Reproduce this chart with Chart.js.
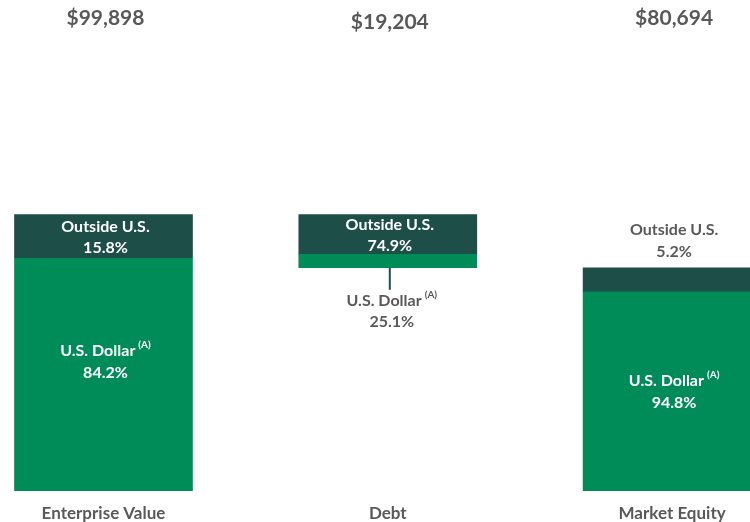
<!DOCTYPE html>
<html>
<head>
<meta charset="utf-8">
<script src="https://cdn.jsdelivr.net/npm/chart.js@4.4.0/dist/chart.umd.min.js"></script>
<style>
html, body { margin: 0; padding: 0; background: #fff; }
</style>
</head>
<body>
<canvas id="waterfall" width="750" height="522"></canvas>
<script>
// values in $ millions
var categories = ['Enterprise Value', 'Debt', 'Market Equity'];
var totalLabels = ['$99,898', '$19,204', '$80,694'];
var bases = [0, 80694, 0];
var usdValues = [84113, 4820, 72000];
var outsideValues = [15785, 14384, 8694];
var usdPct = ['84.2%', '25.1%', '94.8%'];
var outsidePct = ['15.8%', '74.9%', '5.2%'];

var green = '#008c58';
var darkGreen = '#1d4e48';
var grey = '#595959';

function drawUsdLabel(ctx, text, cx, cy, color) {
    ctx.font = 'bold 16px Lato';
    var w1 = ctx.measureText(text).width;
    ctx.font = 'bold 10px Lato';
    var w2 = ctx.measureText('(A)').width;
    var gap = 3;
    var left = cx - (w1 + gap + w2) / 2;
    ctx.textAlign = 'left';
    ctx.fillStyle = color;
    ctx.font = 'bold 16px Lato';
    ctx.fillText(text, left, cy);
    ctx.font = 'bold 10px Lato';
    ctx.fillText('(A)', left + w1 + gap, cy - 6);
    ctx.textAlign = 'center';
}

var labelPlugin = {
    id: 'segmentLabels',
    afterDatasetsDraw: function(chart) {
        var ctx = chart.ctx;
        var xs = chart.scales.x, ys = chart.scales.y;
        var usdShift = [-13, 0, 0];
        ctx.save();
        ctx.textAlign = 'center';
        ctx.textBaseline = 'middle';
        for (var i = 0; i < categories.length; i++) {
            var cx = xs.getPixelForValue(i) + 2;
            var yBase = ys.getPixelForValue(bases[i]);
            var ySplit = ys.getPixelForValue(bases[i] + usdValues[i]);
            var yTop = ys.getPixelForValue(bases[i] + usdValues[i] + outsideValues[i]);

            // total on top
            ctx.font = 'bold 21px Lato';
            ctx.fillStyle = grey;
            ctx.fillText(totalLabels[i], cx, i == 1 ? 22 : 18);

            // outside U.S. segment
            ctx.font = 'bold 16px Lato';
            if (ySplit - yTop > 30) {
                var mid = (ySplit + yTop) / 2;
                ctx.fillStyle = '#fff';
                ctx.fillText('Outside U.S.', cx, mid - 10);
                ctx.fillText(outsidePct[i], cx, mid + 11);
            } else {
                ctx.fillStyle = grey;
                ctx.fillText('Outside U.S.', cx, yTop - 38);
                ctx.fillText(outsidePct[i], cx, yTop - 16);
            }

            // U.S. dollar segment
            if (yBase - ySplit > 30) {
                var mid2 = (yBase + ySplit) / 2 + usdShift[i];
                drawUsdLabel(ctx, 'U.S. Dollar', cx, mid2 - 11, '#fff');
                ctx.font = 'bold 16px Lato';
                ctx.fillStyle = '#fff';
                ctx.fillText(usdPct[i], cx, mid2 + 11);
            } else {
                ctx.strokeStyle = darkGreen;
                ctx.lineWidth = 2;
                ctx.beginPath();
                ctx.moveTo(cx, yBase);
                ctx.lineTo(cx, yBase + 22);
                ctx.stroke();
                drawUsdLabel(ctx, 'U.S. Dollar', cx + 2, yBase + 33, grey);
                ctx.font = 'bold 16px Lato';
                ctx.fillStyle = grey;
                ctx.fillText(usdPct[i], cx + 2, yBase + 54);
            }
        }
        ctx.restore();
    }
};

var usdData = categories.map(function(c, i) {
    return { x: i, y: [bases[i], bases[i] + usdValues[i]] };
});
var outsideData = categories.map(function(c, i) {
    return { x: i, y: [bases[i] + usdValues[i], bases[i] + usdValues[i] + outsideValues[i]] };
});

var chart = new Chart(document.getElementById('waterfall'), {
    type: 'bar',
    data: {
        datasets: [
            { label: 'U.S. Dollar', data: usdData, backgroundColor: green, barThickness: 178, grouped: false },
            { label: 'Outside U.S.', data: outsideData, backgroundColor: darkGreen, barThickness: 178, grouped: false }
        ]
    },
    options: {
        responsive: false,
        animation: false,
        devicePixelRatio: 1,
        layout: { padding: 0 },
        plugins: {
            legend: { display: false },
            tooltip: { enabled: false }
        },
        scales: {
            x: {
                type: 'linear',
                offset: false,
                min: -0.364,
                max: 2.274,
                grid: { display: false },
                border: { display: false },
                afterBuildTicks: function(axis) {
                    axis.ticks = categories.map(function(c, i) { return { value: i }; });
                },
                afterFit: function(axis) {
                    axis.height = 31;
                },
                ticks: {
                    autoSkip: false,
                    maxRotation: 0,
                    padding: 4,
                    color: grey,
                    font: { family: 'Lato', size: 17, weight: 'bold' },
                    callback: function(v) { return categories[v]; }
                }
            },
            y: {
                display: false,
                min: 0,
                max: 177500
            }
        }
    },
    plugins: [labelPlugin]
});
</script>
</body>
</html>
